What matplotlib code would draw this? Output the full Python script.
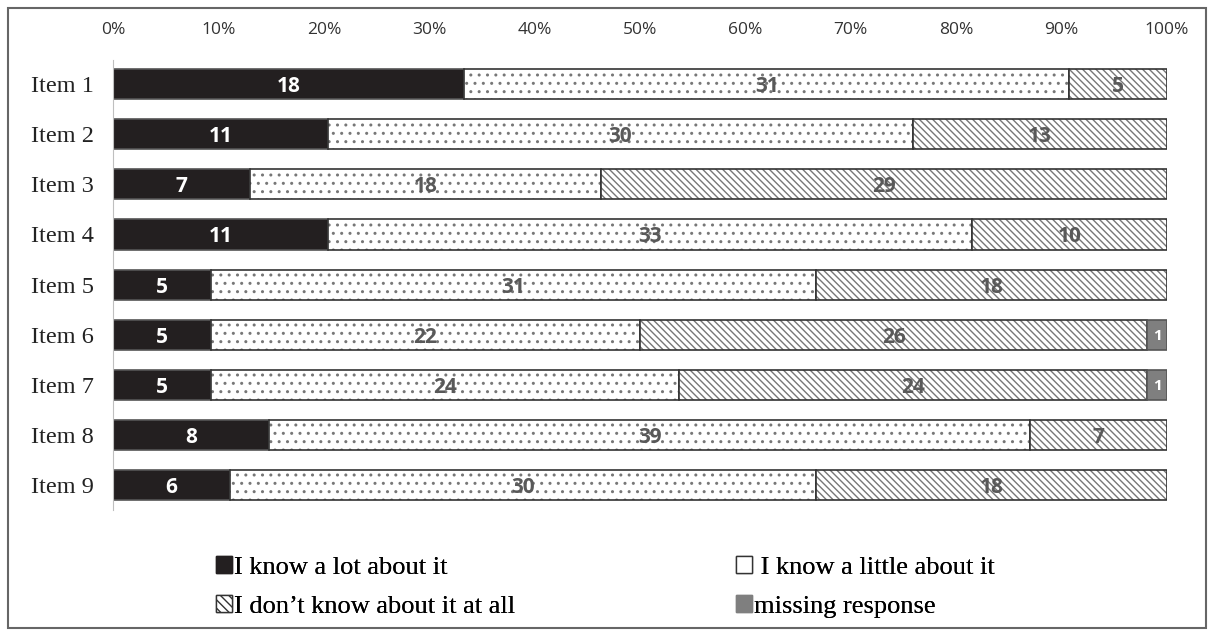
import numpy as np
import matplotlib.pyplot as plt
from matplotlib.patches import Patch, Rectangle

# data
items = ["Item 1", "Item 2", "Item 3", "Item 4", "Item 5", "Item 6", "Item 7", "Item 8", "Item 9"]
know_lot = [18, 11, 7, 11, 5, 5, 5, 8, 6]
know_little = [31, 30, 18, 33, 31, 22, 24, 39, 30]
dont_know = [5, 13, 29, 10, 18, 26, 24, 7, 18]
missing = [0, 0, 0, 0, 0, 1, 1, 0, 0]
tick_labels = ["0%", "10%", "20%", "30%", "40%", "50%", "60%", "70%", "80%", "90%", "100%"]

series = [know_lot, know_little, dont_know, missing]
labels = ["I know a lot about it", "I know a little about it",
          "I don\u2019t know about it at all", "missing response"]
faces = ["#231f20", "white", "white", "#7f7f7f"]
hatches = [None, "..", "\\\\\\\\\\", None]
text_cols = ["white", "#595959", "#595959", "white"]

totals = np.sum(series, axis=0)
pct = [np.array(s) / totals * 100 for s in series]

fig = plt.figure(figsize=(12.14, 6.37), dpi=100)
ax = fig.add_axes([0.0931, 0.199, 0.8682, 0.7068])

y = np.arange(len(items))
h = 0.6
left = np.zeros(len(items))
for i in range(4):
    w = pct[i]
    if hatches[i]:
        ax.barh(y, w, h, left=left, color=faces[i], hatch=hatches[i],
                edgecolor="#777777", linewidth=0)
        ax.barh(y, w, h, left=left, color="none", edgecolor="#333333", linewidth=1.2)
    else:
        ax.barh(y, np.where(w > 0, w, np.nan), h, left=left, color=faces[i],
                edgecolor="#555555", linewidth=1.2)
    for j in range(len(items)):
        v = series[i][j]
        if v > 0:
            ax.text(left[j] + w[j] / 2, y[j], str(v), ha="center", va="center_baseline",
                    fontsize=15 if i < 3 else 11, fontweight="bold",
                    color=text_cols[i], family="Open Sans")
    left += w

ax.set_xlim(0, 100)
ax.set_ylim(8.5, -0.48)
ax.set_yticks(y)
ax.set_yticklabels(items, family="Liberation Serif", fontsize=17.5, color="#222222")
ax.set_xticks(np.arange(0, 101, 10))
ax.set_xticklabels(tick_labels, family="Open Sans", fontsize=12.5, color="#333333")
ax.xaxis.tick_top()
ax.tick_params(axis="both", length=0)
ax.tick_params(axis="x", pad=16)
ax.tick_params(axis="y", pad=14)
for s in ["top", "right", "bottom"]:
    ax.spines[s].set_visible(False)
ax.spines["left"].set_color("#bfbfbf")

leg_font = {"family": "Liberation Serif", "size": 19}
col1 = [Patch(facecolor="#231f20", edgecolor="#231f20", label=labels[0]),
        Patch(facecolor="white", edgecolor="#333333", hatch="\\\\\\\\", label=labels[2])]
col2 = [Patch(facecolor="white", edgecolor="#333333", label=" " + labels[1]),
        Patch(facecolor="#7f7f7f", edgecolor="#7f7f7f", label=labels[3])]
for hs, x0 in [(col1, 216 / 1214), (col2, 736 / 1214)]:
    lg = fig.legend(handles=hs, loc="center left", bbox_to_anchor=(x0, 0.0785),
                    frameon=False, prop=leg_font, borderpad=0, borderaxespad=0,
                    handlelength=0.6, handleheight=0.6, handletextpad=0.1,
                    labelspacing=0.6)
    fig.add_artist(lg)

fig.patches.append(Rectangle((0.007, 0.014), 0.986, 0.974, transform=fig.transFigure,
                             fill=False, edgecolor="#666666", linewidth=1.5))

fig.savefig("out.png", dpi=100)
